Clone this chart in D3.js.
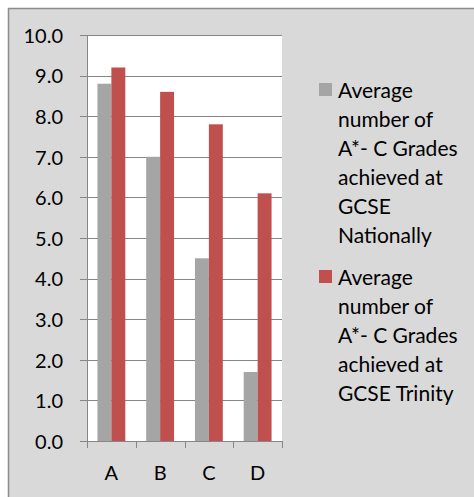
<!DOCTYPE html>
<html><head><meta charset="utf-8">
<script src="https://cdn.jsdelivr.net/npm/d3@7"></script>
<style>
html,body{margin:0;padding:0;background:#fff;}
text{font-family:Lato,"Open Sans",sans-serif;fill:#000;}
</style></head>
<body>
<svg id="c" width="474" height="497"></svg>
<script>
const categories = ["A","B","C","D"];
const nationalValues = [8.8, 7.0, 4.5, 1.7];
const trinityValues = [9.2, 8.6, 7.8, 6.1];
const seriesNames = ["Average number of A*- C Grades achieved at GCSE Nationally",
                     "Average number of A*- C Grades achieved at GCSE Trinity"];
const legendLines = [["Average","number of","A*- C Grades","achieved at","GCSE","Nationally"],
                     ["Average","number of","A*- C Grades","achieved at","GCSE Trinity"]];
const yTicks = [0,1,2,3,4,5,6,7,8,9,10];
const colors = ["#a5a5a5", "#c0504d"];

(function(){
const svg = d3.select("#c");
svg.append("rect").attr("x",8.5).attr("y",8.5).attr("width",480).attr("height",500)
  .attr("fill","#d9d9d9").attr("stroke","#8c8c8c").attr("stroke-width",1.5);

const pL=87, pR=282, pT=35, pB=441;
const y = d3.scaleLinear().domain([0,10]).range([pB, pT]);
const x = d3.scaleBand().domain(categories).range([pL, pR]).paddingInner(0).paddingOuter(0);
svg.append("rect").attr("x",pL).attr("y",pT).attr("width",pR-pL).attr("height",pB-pT).attr("fill","#fff");

// gridlines
svg.append("g").selectAll("line").data(yTicks).join("line")
  .attr("x1",80).attr("x2",pR).attr("y1",d=>Math.round(y(d))+0.5).attr("y2",d=>Math.round(y(d))+0.5)
  .attr("stroke","#868686").attr("stroke-width",1);

const inner = d3.scaleBand().domain([0,1]).range([0, x.bandwidth()]).paddingOuter(0.75).paddingInner(0);
const data = categories.map((c,i)=>({c, v:[nationalValues[i], trinityValues[i]]}));
const g = svg.append("g");
data.forEach(d=>{
  d.v.forEach((v,s)=>{
    g.append("rect").attr("x",x(d.c)+inner(s)).attr("width",inner.bandwidth())
      .attr("y",y(v)).attr("height",y(0)-y(v)).attr("fill",colors[s]);
  });
});

// axes
const yAxis = d3.axisLeft(y).tickValues(yTicks).tickFormat(d3.format(".1f")).tickSize(0).tickPadding(24);
const ya = svg.append("g").attr("transform",`translate(${pL},0)`).call(yAxis);
ya.select(".domain").remove();
ya.selectAll("text").attr("font-size",20).attr("font-family","Lato,'Open Sans',sans-serif").attr("dy","0.36em");
svg.append("line").attr("x1",pL+0.5).attr("x2",pL+0.5).attr("y1",pT).attr("y2",pB).attr("stroke","#868686");

const xAxis = d3.axisBottom(x).tickSize(0).tickPadding(0);
const xa = svg.append("g").attr("transform",`translate(0,${pB})`).call(xAxis);
xa.select(".domain").remove();
xa.selectAll("text").attr("font-size",20).attr("font-family","Lato,'Open Sans',sans-serif").attr("dy",0).attr("y",39);
svg.append("line").attr("x1",pL).attr("x2",pR).attr("y1",pB+0.5).attr("y2",pB+0.5).attr("stroke","#868686");
const xt = categories.map(c=>x(c)).concat([pR]);
svg.append("g").selectAll("line").data(xt).join("line")
  .attr("x1",d=>Math.round(d)+0.5).attr("x2",d=>Math.round(d)+0.5).attr("y1",pB).attr("y2",pB+7)
  .attr("stroke","#868686");

// legend
const lg = svg.append("g");
const starts = [90, 277];
legendLines.forEach((lines,s)=>{
  lg.append("rect").attr("x",319).attr("y",starts[s]-7).attr("width",13).attr("height",13).attr("fill",colors[s]);
  const t = lg.append("text").attr("x",338).attr("font-size",21);
  lines.forEach((l,i)=>t.append("tspan").attr("x",338).attr("y",starts[s]+i*29).attr("dy","0.36em").text(l));
});
})();
</script>
</body></html>
